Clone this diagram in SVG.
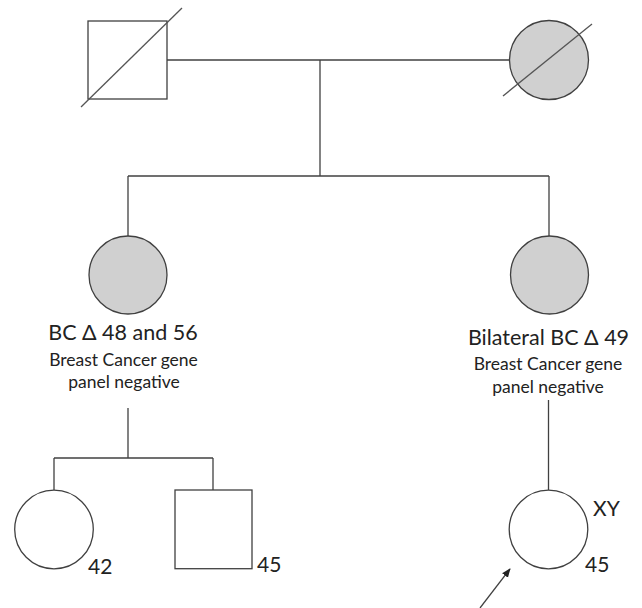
<svg xmlns="http://www.w3.org/2000/svg" width="642" height="608" viewBox="0 0 642 608">
  <style>
    .shape { fill: #ffffff; stroke: #404040; stroke-width: 1.3; }
    .affected { fill: #d0d0d0; }
    .line { fill: none; stroke: #404040; stroke-width: 1.3; }
    .dead { stroke: #555555; stroke-width: 1.3; }
    .label { font-family: Lato, "Open Sans", sans-serif; fill: #222222; text-anchor: middle; }
    .big { font-size: 21.5px; }
    .small { font-size: 17.5px; }
    .age { font-family: Lato, "Open Sans", sans-serif; fill: #222222; font-size: 21px; }
  </style>
  <defs>
    <marker id="arrow" viewBox="0 0 10 10" refX="9" refY="5" markerWidth="7" markerHeight="7" orient="auto">
      <path d="M0,1 L10,5 L0,9 z" fill="#222222"/>
    </marker>
  </defs>

  <g id="connectors">
    <line class="line" x1="167" y1="60" x2="509" y2="60"/>
    <line class="line" x1="320" y1="60" x2="320" y2="176"/>
    <line class="line" x1="128" y1="176" x2="549" y2="176"/>
    <line class="line" x1="128" y1="176" x2="128" y2="236"/>
    <line class="line" x1="549" y1="176" x2="549" y2="236"/>
    <line class="line" x1="128" y1="408" x2="128" y2="458"/>
    <line class="line" x1="54" y1="458" x2="213" y2="458"/>
    <line class="line" x1="54" y1="458" x2="54" y2="490"/>
    <line class="line" x1="213" y1="458" x2="213" y2="490"/>
    <line class="line" x1="548.5" y1="400" x2="548.5" y2="490"/>
    <line class="line" x1="480" y1="608" x2="510" y2="569" stroke="#222222" marker-end="url(#arrow)"/>
  </g>

  <g id="father">
    <rect class="shape" x="88" y="21" width="79" height="78"/>
    <line class="dead" x1="81" y1="107" x2="182" y2="8"/>
  </g>

  <g id="mother">
    <circle class="shape affected" cx="549" cy="60" r="39.5"/>
    <line class="dead" x1="503" y1="96" x2="592" y2="24"/>
  </g>

  <g id="daughter-left">
    <circle class="shape affected" cx="128" cy="275" r="39"/>
    <text class="label big" x="123" y="340">BC Δ 48 and 56</text>
    <text class="label small" x="123.5" y="366">Breast Cancer gene</text>
    <text class="label small" x="124" y="388">panel negative</text>
  </g>

  <g id="daughter-right">
    <circle class="shape affected" cx="549.5" cy="275" r="39"/>
    <text class="label big" x="548.5" y="345">Bilateral BC Δ 49</text>
    <text class="label small" x="548" y="370">Breast Cancer gene</text>
    <text class="label small" x="548" y="393">panel negative</text>
  </g>

  <g id="granddaughter">
    <circle class="shape" cx="54" cy="529.5" r="39.3"/>
    <text class="age" x="88" y="574">42</text>
  </g>

  <g id="grandson">
    <rect class="shape" x="175" y="490" width="77" height="78.7"/>
    <text class="age" x="257" y="572">45</text>
  </g>

  <g id="proband">
    <circle class="shape" cx="548.5" cy="529.5" r="39.3"/>
    <text class="age" x="593" y="516">XY</text>
    <text class="age" x="585" y="572">45</text>
  </g>
</svg>
